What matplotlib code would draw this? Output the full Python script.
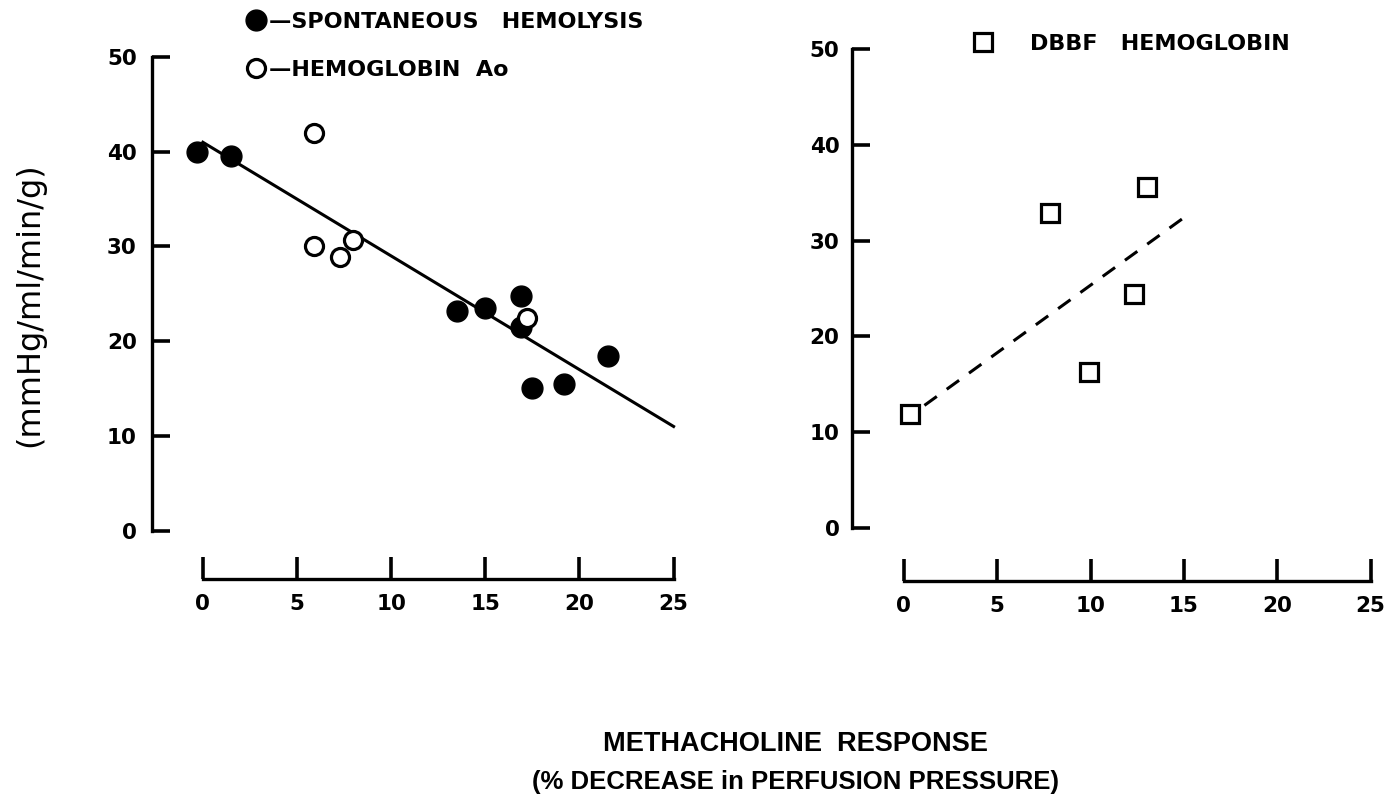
import numpy as np
import matplotlib.pyplot as plt
from matplotlib.lines import Line2D

# left panel: spontaneous hemolysis (filled) and hemoglobin Ao (open)
spont_x = [-0.3, 1.5, 13.5, 15.0, 16.9, 16.9, 17.5, 19.2, 21.5]
spont_y = [40.0, 39.6, 23.2, 23.5, 24.8, 21.5, 15.1, 15.5, 18.4]
hbao_x = [5.9, 5.9, 7.3, 8.0, 17.2]
hbao_y = [42.0, 30.1, 28.9, 30.7, 22.5]
fit_left_x = [0.0, 25.0]
fit_left_y = [41.0, 11.0]

# right panel: DBBF hemoglobin
dbbf_x = [0.3, 7.8, 9.9, 12.3, 13.0]
dbbf_y = [11.9, 32.9, 16.3, 24.4, 35.6]
fit_right_x = [1.1, 15.0]
fit_right_y = [12.8, 32.4]

x_ticks = [0, 5, 10, 15, 20, 25]
y_ticks = [0, 10, 20, 30, 40, 50]

W, H = 1391, 798
fig = plt.figure(figsize=(W / 100, H / 100), dpi=100)

tick_font = dict(fontsize=15.5, fontweight='bold', family='DejaVu Sans')


def setup(ax, xlim, ylim, ypad):
    ax.set_xlim(*xlim)
    ax.set_ylim(*ylim)
    for s in ['top', 'right']:
        ax.spines[s].set_visible(False)
    ax.spines['left'].set_bounds(0, 50)
    ax.spines['bottom'].set_bounds(0, 25)
    for s in ['left', 'bottom']:
        ax.spines[s].set_linewidth(2.4)
    ax.set_xticks(x_ticks)
    ax.set_yticks(y_ticks)
    ax.set_xticklabels([str(t) for t in x_ticks], **tick_font)
    ax.set_yticklabels([str(t) for t in y_ticks], **tick_font)
    ax.tick_params(axis='y', direction='in', length=13, width=2.6, pad=ypad)
    ax.tick_params(axis='x', direction='in', length=16, width=2.6, pad=11)
    ax.patch.set_visible(False)


# left axes: y axis at px 152, x 0 at 203 ... 25 at 674
axL = fig.add_axes([152 / W, 1 - 579 / H, 531 / W, (579 - 47.5) / H])
setup(axL, (-2.7, 25.5), (-5.1, 51), 11)
axL.plot(fit_left_x, fit_left_y, color='black', lw=2.2, zorder=1)
axL.plot(spont_x, spont_y, 'o', ms=15, color='black', zorder=3)
axL.plot(hbao_x, hbao_y, 'o', ms=13, mfc='white', mec='black', mew=2.3, zorder=4)

axL.legend(
    handles=[Line2D([], [], marker='o', ls='none', ms=15, color='black'),
             Line2D([], [], marker='o', ls='none', ms=13, mfc='white', mec='black', mew=2.3)],
    labels=['\u2014SPONTANEOUS   HEMOLYSIS', '\u2014HEMOGLOBIN  Ao'],
    loc='upper left', bbox_to_anchor=(247 / W, 1 - 12 / H), bbox_transform=fig.transFigure,
    frameon=False, handlelength=0.8, handletextpad=0.2, labelspacing=1.25,
    borderpad=0, borderaxespad=0, prop=dict(size=16, weight='bold'))

# right axes
axR = fig.add_axes([852 / W, 1 - 581 / H, 528 / W, (581 - 39.4) / H])
setup(axR, (-2.78, 25.5), (-5.53, 51), 9)
axR.plot(fit_right_x, fit_right_y, color='black', lw=2.2, ls=(0, (5, 4)), zorder=1)
axR.plot(dbbf_x, dbbf_y, 's', ms=13, mfc='white', mec='black', mew=2.3, zorder=3)

axR.legend(
    handles=[Line2D([], [], marker='s', ls='none', ms=13, mfc='white', mec='black', mew=2.3)],
    labels=['DBBF   HEMOGLOBIN'],
    loc='upper left', bbox_to_anchor=(974 / W, 1 - 34 / H), bbox_transform=fig.transFigure,
    frameon=False, handlelength=0.8, handletextpad=1.7,
    borderpad=0, borderaxespad=0, prop=dict(size=16, weight='bold'))

fig.text(30 / W, 1 - 305 / H, '(mmHg/ml/min/g)', rotation=90, ha='center', va='center',
         fontsize=23)

label_font = dict(fontsize=19.5, family='Liberation Sans', fontweight='bold')
fig.text(795 / W, 1 - 744 / H, 'METHACHOLINE  RESPONSE', ha='center', va='center', **label_font)
fig.text(795 / W, 1 - 782 / H, '(% DECREASE in PERFUSION PRESSURE)', ha='center', va='center',
         fontsize=18.5, family='Liberation Sans', fontweight='bold')

fig.savefig('out.png', dpi=100)
